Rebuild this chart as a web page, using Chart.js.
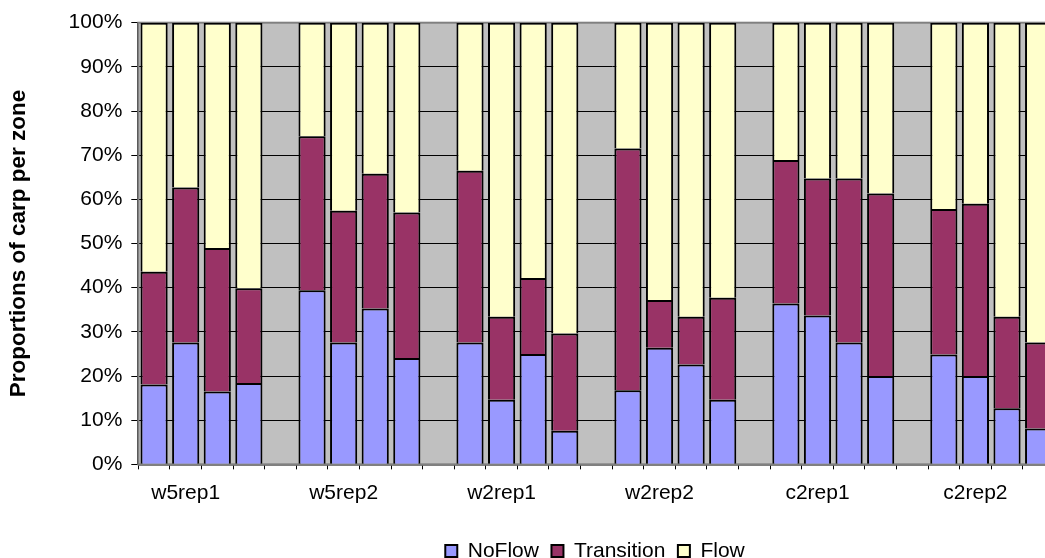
<!DOCTYPE html>
<html>
<head>
<meta charset="utf-8">
<title>Proportions of carp per zone</title>
<script src="https://cdn.jsdelivr.net/npm/chart.js@4/dist/chart.umd.min.js"></script>
<style>
  html, body { margin: 0; padding: 0; background: #ffffff; overflow: hidden; }
  canvas { display: block; }
</style>
</head>
<body>
<canvas id="chart" width="1190" height="580"></canvas>
<script>
// Replicate groups, four trials each
const groups = ['w5rep1', 'w5rep2', 'w2rep1', 'w2rep2', 'c2rep1', 'c2rep2'];

// Share of carp (%) in each zone, one value per trial
const noFlow = [18.1, 27.6, 16.5, 18.4, 39.4, 27.6, 35.3, 24.1, 27.6, 14.6, 25.0, 7.6,
                16.8, 26.4, 22.6, 14.6, 36.4, 33.7, 27.6, 20.0, 24.9, 20.0, 12.7, 8.1];
const transition = [25.5, 35.1, 32.5, 21.5, 34.9, 29.8, 30.5, 32.9, 38.9, 18.8, 17.2, 22.0,
                    54.7, 10.8, 10.8, 23.1, 32.5, 31.0, 37.1, 41.3, 32.9, 39.0, 20.7, 19.5];
const flow = [56.4, 37.3, 51.0, 60.1, 25.7, 42.6, 34.2, 43.0, 33.5, 66.6, 57.8, 70.4,
              28.5, 62.8, 66.6, 62.3, 31.1, 35.3, 35.3, 38.7, 42.2, 41.0, 66.6, 72.4];

// Value axis tick labels
const yTicks = [0, 10, 20, 30, 40, 50, 60, 70, 80, 90, 100];

const trialsPerGroup = 4;
const FONT = "'Liberation Sans', Arial, sans-serif";
const TEXT_SIZE = 21;

// Each group takes four bar slots followed by one empty slot
const labels = [];
groups.forEach(g => labels.push('', g, '', '', ''));

function spread(values) {
  const out = [];
  groups.forEach((g, gi) => {
    for (let t = 0; t < trialsPerGroup; t++) out.push(values[gi * trialsPerGroup + t]);
    out.push(null);
  });
  return out;
}

const plotBackground = {
  id: 'plotBackground',
  beforeDraw(chart) {
    const { ctx, chartArea: a } = chart;
    ctx.save();
    ctx.fillStyle = '#c0c0c0';
    ctx.fillRect(a.left, a.top, a.right - a.left, a.bottom - a.top);
    ctx.restore();
  },
  beforeDatasetsDraw(chart) {
    const { ctx, chartArea: a } = chart;
    ctx.save();
    ctx.strokeStyle = '#808080';
    ctx.lineWidth = 2;
    ctx.strokeRect(a.left, a.top, a.right - a.left, a.bottom - a.top);
    ctx.restore();
  }
};

const common = {
  borderColor: '#000000',
  borderWidth: 2,
  barPercentage: 0.86,
  categoryPercentage: 1.0,
  yAxisID: 'y'
};

new Chart(document.getElementById('chart'), {
  type: 'bar',
  data: {
    labels: labels,
    datasets: [
      Object.assign({ label: 'NoFlow', data: spread(noFlow), backgroundColor: '#9999ff' }, common),
      Object.assign({ label: 'Transition', data: spread(transition), backgroundColor: '#993366' }, common),
      Object.assign({ label: 'Flow', data: spread(flow), backgroundColor: '#ffffcc' }, common)
    ]
  },
  options: {
    responsive: false,
    animation: false,
    devicePixelRatio: 1,
    layout: { padding: { top: 22.7, left: 0, right: 0, bottom: 8.5 } },
    plugins: {
      tooltip: { enabled: false },
      legend: {
        position: 'bottom',
        labels: {
          color: '#000000',
          font: { family: FONT, size: TEXT_SIZE },
          boxWidth: 12,
          boxHeight: 12,
          padding: 12.5
        }
      }
    },
    scales: {
      x: {
        stacked: true,
        afterFit(scale) { scale.height = 63.65; },
        grid: {
          offset: true,
          drawOnChartArea: false,
          drawTicks: true,
          tickLength: 5,
          color: '#000000'
        },
        border: { display: true, color: '#000000', width: 1.5 },
        ticks: {
          autoSkip: false,
          maxRotation: 0,
          color: '#000000',
          padding: 11.5,
          font: { family: FONT, size: TEXT_SIZE }
        }
      },
      y: {
        stacked: true,
        position: 'left',
        min: 0,
        max: 100,
        afterFit(scale) { scale.width = 138.3; },
        afterBuildTicks(scale) { scale.ticks = yTicks.map(v => ({ value: v })); },
        grid: {
          color: c => (c.tick && c.tick.value === 100 ? '#808080' : '#000000'),
          lineWidth: 1,
          drawTicks: true,
          tickLength: 7,
          tickColor: '#000000'
        },
        border: { display: true, color: '#000000', width: 2 },
        ticks: {
          color: '#000000',
          padding: 9,
          font: { family: FONT, size: TEXT_SIZE },
          callback: v => v + '%'
        },
        title: {
          display: true,
          text: 'Proportions of carp per zone',
          color: '#000000',
          font: { family: FONT, size: 22.5, weight: 'bold' },
          padding: { top: 5, bottom: 0 }
        }
      },
      // keeps the right side of the canvas clear so the legend sits centred across the full width
      yPad: {
        type: 'linear',
        position: 'right',
        display: true,
        afterFit(scale) { scale.width = 104; },
        grid: { display: false, drawTicks: false },
        border: { display: false },
        ticks: { display: false }
      }
    }
  },
  plugins: [plotBackground]
});
</script>
</body>
</html>
